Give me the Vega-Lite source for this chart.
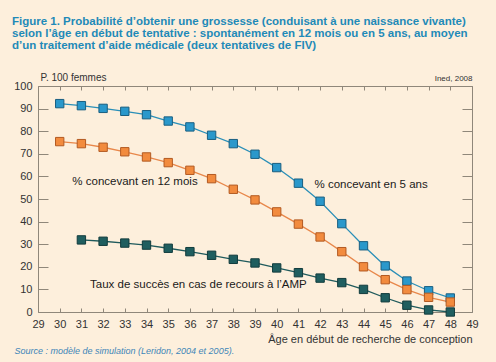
{
  "$schema": "https://vega.github.io/schema/vega-lite/v6.json",
  "width": 434,
  "height": 226,
  "autosize": {"type": "none"},
  "padding": {"left": 38, "top": 86, "right": 24, "bottom": 50},
  "background": "#fdefdc",
  "title": {
    "text": ["Figure 1. Probabilité d’obtenir une grossesse (conduisant à une naissance vivante)", "selon l’âge en début de tentative : spontanément en 12 mois ou en 5 ans, au moyen", "d’un traitement d’aide médicale (deux tentatives de FIV)"],
    "anchor": "start",
    "frame": "group",
    "dx": -26,
    "font": "Liberation Sans",
    "fontSize": 11.5,
    "fontWeight": "bold",
    "color": "#1f8ab8",
    "lineHeight": 12.3,
    "offset": 20
  },
  "config": {
    "view": {"stroke": null},
    "title": {"lineHeight": 12.3},
    "axis": {
      "labelFont": "Liberation Sans",
      "titleFont": "Liberation Sans",
      "labelColor": "#333333",
      "titleColor": "#333333",
      "domainColor": "#8f877a",
      "tickColor": "#8f877a",
      "grid": false
    }
  },
  "data": {"values": [
    {"age": 30, "serie": "5ans", "value": 92.2},
    {"age": 31, "serie": "5ans", "value": 91.3},
    {"age": 32, "serie": "5ans", "value": 90.1},
    {"age": 33, "serie": "5ans", "value": 88.8},
    {"age": 34, "serie": "5ans", "value": 87.3},
    {"age": 35, "serie": "5ans", "value": 84.5},
    {"age": 36, "serie": "5ans", "value": 81.9},
    {"age": 37, "serie": "5ans", "value": 78.2},
    {"age": 38, "serie": "5ans", "value": 74.5},
    {"age": 39, "serie": "5ans", "value": 69.8},
    {"age": 40, "serie": "5ans", "value": 63.9},
    {"age": 41, "serie": "5ans", "value": 57.0},
    {"age": 42, "serie": "5ans", "value": 49.0},
    {"age": 43, "serie": "5ans", "value": 39.1},
    {"age": 44, "serie": "5ans", "value": 29.3},
    {"age": 45, "serie": "5ans", "value": 20.4},
    {"age": 46, "serie": "5ans", "value": 13.7},
    {"age": 47, "serie": "5ans", "value": 9.4},
    {"age": 48, "serie": "5ans", "value": 6.2},
    {"age": 30, "serie": "12mois", "value": 75.4},
    {"age": 31, "serie": "12mois", "value": 74.5},
    {"age": 32, "serie": "12mois", "value": 72.9},
    {"age": 33, "serie": "12mois", "value": 70.9},
    {"age": 34, "serie": "12mois", "value": 68.6},
    {"age": 35, "serie": "12mois", "value": 66.1},
    {"age": 36, "serie": "12mois", "value": 62.7},
    {"age": 37, "serie": "12mois", "value": 59.0},
    {"age": 38, "serie": "12mois", "value": 54.3},
    {"age": 39, "serie": "12mois", "value": 49.6},
    {"age": 40, "serie": "12mois", "value": 44.3},
    {"age": 41, "serie": "12mois", "value": 38.9},
    {"age": 42, "serie": "12mois", "value": 33.2},
    {"age": 43, "serie": "12mois", "value": 26.7},
    {"age": 44, "serie": "12mois", "value": 20.0},
    {"age": 45, "serie": "12mois", "value": 14.3},
    {"age": 46, "serie": "12mois", "value": 9.9},
    {"age": 47, "serie": "12mois", "value": 6.5},
    {"age": 48, "serie": "12mois", "value": 4.4},
    {"age": 31, "serie": "AMP", "value": 31.9},
    {"age": 32, "serie": "AMP", "value": 31.3},
    {"age": 33, "serie": "AMP", "value": 30.5},
    {"age": 34, "serie": "AMP", "value": 29.6},
    {"age": 35, "serie": "AMP", "value": 28.2},
    {"age": 36, "serie": "AMP", "value": 26.7},
    {"age": 37, "serie": "AMP", "value": 25.1},
    {"age": 38, "serie": "AMP", "value": 23.3},
    {"age": 39, "serie": "AMP", "value": 21.7},
    {"age": 40, "serie": "AMP", "value": 19.5},
    {"age": 41, "serie": "AMP", "value": 17.4},
    {"age": 42, "serie": "AMP", "value": 15.0},
    {"age": 43, "serie": "AMP", "value": 13.0},
    {"age": 44, "serie": "AMP", "value": 10.0},
    {"age": 45, "serie": "AMP", "value": 6.3},
    {"age": 46, "serie": "AMP", "value": 3.0},
    {"age": 47, "serie": "AMP", "value": 0.9},
    {"age": 48, "serie": "AMP", "value": 0.0}
  ]},
  "resolve": {"axis": {"x": "independent", "y": "independent"}},
  "layer": [
    {
      "mark": {"type": "line", "strokeWidth": 1.3},
      "encoding": {
        "x": {"field": "age", "type": "quantitative", "scale": {"domain": [29, 49], "nice": false, "zero": false},
          "axis": {"orient": "bottom", "values": [29,30,31,32,33,34,35,36,37,38,39,40,41,42,43,44,45,46,47,48,49], "tickSize": -4, "labelPadding": 10, "labelFontSize": 11, "labelFlush": false,
            "title": "Âge en début de recherche de conception", "titleFontSize": 11, "titleFontWeight": "normal", "titleAnchor": "end", "titleAlign": "right", "titleBaseline": "top", "titleX": 434, "titleY": 21}},
        "y": {"field": "value", "type": "quantitative", "scale": {"domain": [0, 100], "nice": false},
          "axis": {"orient": "left", "values": [0,10,20,30,40,50,60,70,80,90,100], "tickSize": -10, "labelPadding": 16, "labelFontSize": 11,
            "title": "P. 100 femmes", "titleFontSize": 10, "titleFontWeight": "normal", "titleAngle": 0, "titleAlign": "left", "titleBaseline": "bottom", "titleX": 2, "titleY": -4}},
        "color": {"field": "serie", "type": "nominal", "legend": null,
          "scale": {"domain": ["5ans", "12mois", "AMP"], "range": ["#2a8fb8", "#e8874a", "#1f5a5c"]}}
      }
    },
    {
      "mark": {"type": "point", "shape": "square", "filled": true, "size": 70, "strokeWidth": 1, "opacity": 1},
      "encoding": {
        "x": {"field": "age", "type": "quantitative", "axis": null},
        "y": {"field": "value", "type": "quantitative", "axis": null},
        "fill": {"field": "serie", "type": "nominal", "legend": null,
          "scale": {"domain": ["5ans", "12mois", "AMP"], "range": ["#2a98cb", "#f28b3e", "#1f5e5f"]}},
        "stroke": {"field": "serie", "type": "nominal", "legend": null,
          "scale": {"domain": ["5ans", "12mois", "AMP"], "range": ["#1a5f80", "#b25a22", "#123c3d"]}}
      }
    },
    {
      "mark": {"type": "point", "opacity": 0},
      "encoding": {
        "x": {"field": "age", "type": "quantitative",
          "axis": {"orient": "top", "values": [29,30,31,32,33,34,35,36,37,38,39,40,41,42,43,44,45,46,47,48,49], "tickSize": -4, "labels": false,
            "title": "Ined, 2008", "titleFontSize": 8, "titleFontWeight": "normal", "titleAlign": "right", "titleAnchor": "end", "titleX": 434, "titleY": -4, "titleBaseline": "bottom"}},
        "y": {"field": "value", "type": "quantitative",
          "axis": {"orient": "right", "values": [0,10,20,30,40,50,60,70,80,90,100], "tickSize": -10, "labels": false, "title": null}}
      }
    },
    {
      "data": {"values": [
        {"age": 33.47, "value": 57.5, "label": "% concevant en 12 mois"},
        {"age": 44.35, "value": 56.0, "label": "% concevant en 5 ans"},
        {"age": 36.39, "value": 12.1, "label": "Taux de succès en cas de recours à l’AMP"}
      ]},
      "mark": {"type": "text", "font": "Liberation Sans", "fontSize": 11.5, "color": "#1a1a1a", "align": "center", "baseline": "middle"},
      "encoding": {
        "x": {"field": "age", "type": "quantitative",
          "axis": {"orient": "bottom", "domain": false, "ticks": false, "labels": false,
            "title": "Source : modèle de simulation (Leridon, 2004 et 2005).", "titleFontSize": 9, "titleFontStyle": "italic", "titleFontWeight": "normal", "titleColor": "#3d86b8", "titleAlign": "left", "titleAnchor": "start", "titleX": -24, "titleY": 38, "titleBaseline": "middle"}},
        "y": {"field": "value", "type": "quantitative", "axis": null},
        "text": {"field": "label"}
      }
    }
  ]
}
